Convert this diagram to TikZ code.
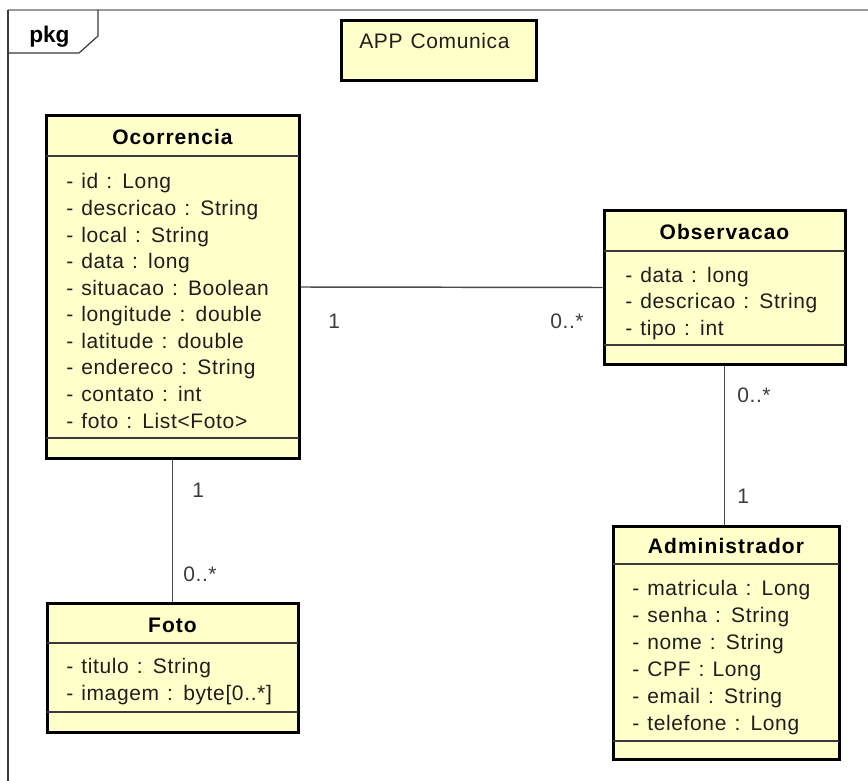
\documentclass[tikz,border=0pt]{standalone}
\usepackage{fontspec}
\setmainfont{Liberation Sans}[LetterSpace=3,WordSpace=1.25,BoldFeatures={LetterSpace=5}]
\newfontfamily\tabfont{Liberation Sans}
\usetikzlibrary{fit, positioning}
\usepackage{xcolor}

\definecolor{classfill}{HTML}{FFFFCA}
\definecolor{sepgray}{HTML}{3A3A3A}
\definecolor{linegray}{HTML}{4A4A4A}
\definecolor{framegray}{HTML}{9A9A9A}
\definecolor{textdark}{HTML}{1E1E1E}
\definecolor{multgray}{HTML}{3C3C3C}

\newcommand{\attrfont}{\fontsize{15.75}{19}\selectfont}

\tikzstyle{classbox} = [draw=black, line width=2.25pt, fill=classfill, inner sep=0pt]
\tikzstyle{sepline}  = [draw=sepgray, line width=1pt]
\tikzstyle{assoc}    = [draw=linegray, line width=1.1pt]
\tikzstyle{attr}     = [anchor=base west, inner sep=0pt, font=\attrfont, text=textdark]
\tikzstyle{title}    = [anchor=base, inner sep=0pt, font=\attrfont\bfseries, text=black]
\tikzstyle{mult}     = [anchor=base west, inner sep=0pt, font=\attrfont, text=multgray]

\begin{document}
\begin{tikzpicture}[x=0.75pt, y=-0.75pt]
\useasboundingbox[fill=white] (0,0) rectangle (868,781);

% package frame
\draw[framegray, line width=0.8pt] (8,10) -- (868,10);
\draw[sepgray, line width=0.9pt] (8,10) -- (8,781);
\draw[sepgray, line width=0.9pt] (8,53) -- (79,53) -- (98,36) -- (98,10);
\node[anchor=base west, inner sep=0pt, font=\tabfont\bfseries\fontsize{17}{20}\selectfont] (pkg) at (29,43) {pkg};

% note
\node[classbox, fit={(341,21) (536,81)}] (app) {};
\node[attr] (apptxt) at (359,49) {APP Comunica};

% class boxes
\node[classbox, fit={(46,116) (299,458)}] (ocorr) {};
\node[classbox, fit={(604,211) (845,364)}] (obs) {};
\node[classbox, fit={(613,526) (839,759)}] (adm) {};
\node[classbox, fit={(47,603) (298,732)}] (foto) {};

\draw[sepline] (46,156) -- (299,156);
\draw[sepline] (46,438) -- (299,438);
\draw[sepline] (604,251) -- (845,251);
\draw[sepline] (604,345) -- (845,345);
\draw[sepline] (613,564) -- (839,564);
\draw[sepline] (613,741) -- (839,741);
\draw[sepline] (47,643) -- (298,643);
\draw[sepline] (47,712) -- (298,712);

% associations
\draw[assoc] (ocorr.east) -- (obs.west);
\draw[assoc] (ocorr.south) -- (foto.north);
\draw[assoc] (obs.south) -- (obs.south |- adm.north);

\node[mult] (m1) at (328,328) {1};
\node[mult] (m2) at (550,328) {0..*};
\node[mult] (m3) at (192,497) {1};
\node[mult] (m4) at (183,581) {0..*};
\node[mult] (m5) at (737,402) {0..*};
\node[mult] (m6) at (737,503) {1};

% Ocorrencia
\node[title] (ocT) at (172.5,145) {Ocorrencia};
\node[attr] (oc1)  at (66,189)   {- id : Long};
\node[attr] (oc2)  at (66,215.6) {- descricao : String};
\node[attr] (oc3)  at (66,242.1) {- local : String};
\node[attr] (oc4)  at (66,268.7) {- data : long};
\node[attr] (oc5)  at (66,295.2) {- situacao : Boolean};
\node[attr] (oc6)  at (66,321.8) {- longitude : double};
\node[attr] (oc7)  at (66,348.3) {- latitude : double};
\node[attr] (oc8)  at (66,374.9) {- endereco : String};
\node[attr] (oc9)  at (66,401.4) {- contato : int};
\node[attr] (oc10) at (66,428)   {- foto : List<Foto>};

% Observacao
\node[title] (obT) at (724.5,239) {Observacao};
\node[attr] (ob1) at (625,282)   {- data : long};
\node[attr] (ob2) at (625,308.5) {- descricao : String};
\node[attr] (ob3) at (625,335)   {- tipo : int};

% Administrador
\node[title] (adT) at (726,553) {Administrador};
\node[attr] (ad1) at (632,595)   {- matricula : Long};
\node[attr] (ad2) at (632,622.1) {- senha : String};
\node[attr] (ad3) at (632,649.2) {- nome : String};
\node[attr] (ad4) at (632,676.3) {- CPF : Long};
\node[attr] (ad5) at (632,703.4) {- email : String};
\node[attr] (ad6) at (632,730.5) {- telefone : Long};

% Foto
\node[title] (foT) at (172.5,632) {Foto};
\node[attr] (fo1) at (66,673) {- titulo : String};
\node[attr] (fo2) at (66,700) {- imagem : byte[0..*]};

\end{tikzpicture}
\end{document}
